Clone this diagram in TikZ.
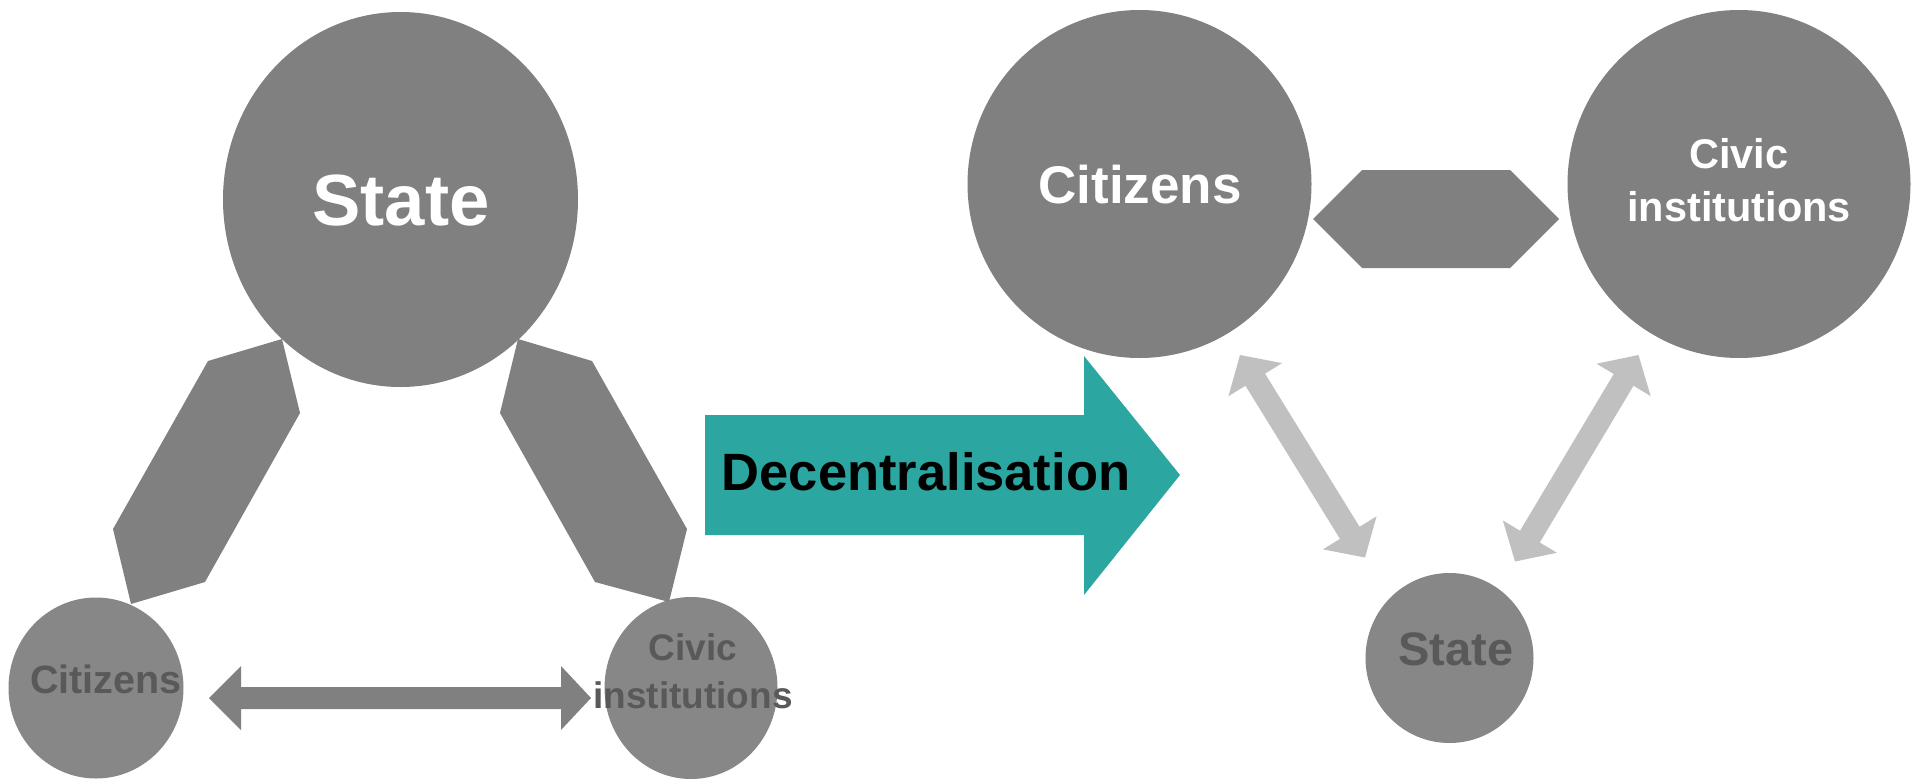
\documentclass[tikz,border=0pt]{standalone}
\usepackage{fontspec}
\setmainfont{Liberation Sans}
\usetikzlibrary{calc,shapes.geometric}
\definecolor{bigg}{RGB}{128,128,128}
\definecolor{smallg}{RGB}{135,135,135}
\definecolor{darktxt}{RGB}{89,89,89}
\definecolor{lightarr}{RGB}{192,192,192}
\definecolor{tealfill}{RGB}{44,166,160}
\newcommand{\lgarrow}[2]{%
\fill[lightarr] (#1)
 -- ($(#1)!29pt!(#2)!31.5pt!90:(#2)$)
 -- ($(#1)!29pt!(#2)!11.5pt!90:(#2)$)
 -- ($(#2)!29pt!(#1)!11.5pt!-90:(#1)$)
 -- ($(#2)!29pt!(#1)!31.5pt!-90:(#1)$)
 -- (#2)
 -- ($(#2)!29pt!(#1)!31.5pt!90:(#1)$)
 -- ($(#2)!29pt!(#1)!11.5pt!90:(#1)$)
 -- ($(#1)!29pt!(#2)!11.5pt!-90:(#2)$)
 -- ($(#1)!29pt!(#2)!31.5pt!-90:(#2)$)
 -- cycle;}
\tikzset{
  blob/.style={ellipse, fill=#1, draw=none, inner sep=0pt},
  lbl/.style={anchor=base, inner sep=0pt, font=\bfseries, align=center},
}
\begin{document}
\begin{tikzpicture}[x=1pt,y=-1pt]
\useasboundingbox[fill=white] (0,0) rectangle (1920,779);
% ---------- left part ----------
\node[blob=bigg, minimum width=355pt, minimum height=375pt] (stateL) at (400.5,199.5) {};
\node[blob=smallg, minimum width=175pt, minimum height=181pt] (citL) at (96,688) {};
\node[blob=smallg, minimum width=173pt, minimum height=182pt] (civL) at (691,688) {};
% connecting hexagons
\fill[bigg] (208,361) -- (282,339) -- (300,413) -- (205,582) -- (131,604) -- (113,529) -- cycle;
\fill[bigg] (518,339) -- (592,361) -- (687,529) -- (669,602) -- (595,582) -- (500,413) -- cycle;
% horizontal double arrow
\fill[bigg] (209,698) -- (241,666) -- (241,687) -- (561,687) -- (561,666) -- (591,698)
  -- (561,730) -- (561,709) -- (241,709) -- (241,730) -- cycle;
\node[lbl, text=white, font=\bfseries\fontsize{72.5pt}{87pt}\selectfont] (stateLt) at (401,225) {State};
\node[lbl, text=darktxt, font=\bfseries\fontsize{39.5pt}{47pt}\selectfont] (citLt) at (106,693) {Citizens};
\node[lbl, text=darktxt, font=\bfseries\fontsize{37pt}{48pt}\selectfont] (civLt) at (693,708.3) {Civic\\institutions};
% ---------- decentralisation arrow ----------
\fill[tealfill] (705,415) -- (1084,415) -- (1084,356) -- (1180,475) -- (1084,595) -- (1084,535) -- (705,535) -- cycle;
\node[lbl, text=black, font=\bfseries\fontsize{52.5pt}{60pt}\selectfont] (dect) at (926,490) {Decentralisation};
% ---------- right part ----------
\node[blob=bigg, minimum width=344pt, minimum height=348pt] (citR) at (1139.5,184) {};
\node[blob=bigg, minimum width=343pt, minimum height=348pt] (civR) at (1739,184) {};
\node[blob=smallg, minimum width=168pt, minimum height=170pt] (stateR) at (1449.5,658) {};
\fill[bigg] (1313,219) -- (1362,170) -- (1510,170) -- (1559,219) -- (1510,268) -- (1362,268) -- cycle;
\node[lbl, text=white, font=\bfseries\fontsize{53pt}{60pt}\selectfont] (citRt) at (1140,203) {Citizens};
\node[lbl, text=white, font=\bfseries\fontsize{41.5pt}{53.5pt}\selectfont] (civRt) at (1739,221.7) {Civic\\institutions};
\node[lbl, text=darktxt, font=\bfseries\fontsize{47pt}{56pt}\selectfont] (stateRt) at (1456,665) {State};
\coordinate (a1) at (1240,355);
\coordinate (a2) at (1365,557.5);
\coordinate (b1) at (1638.5,355);
\coordinate (b2) at (1515,561.5);
\lgarrow{a1}{a2}
\lgarrow{b1}{b2}
\end{tikzpicture}
\end{document}
